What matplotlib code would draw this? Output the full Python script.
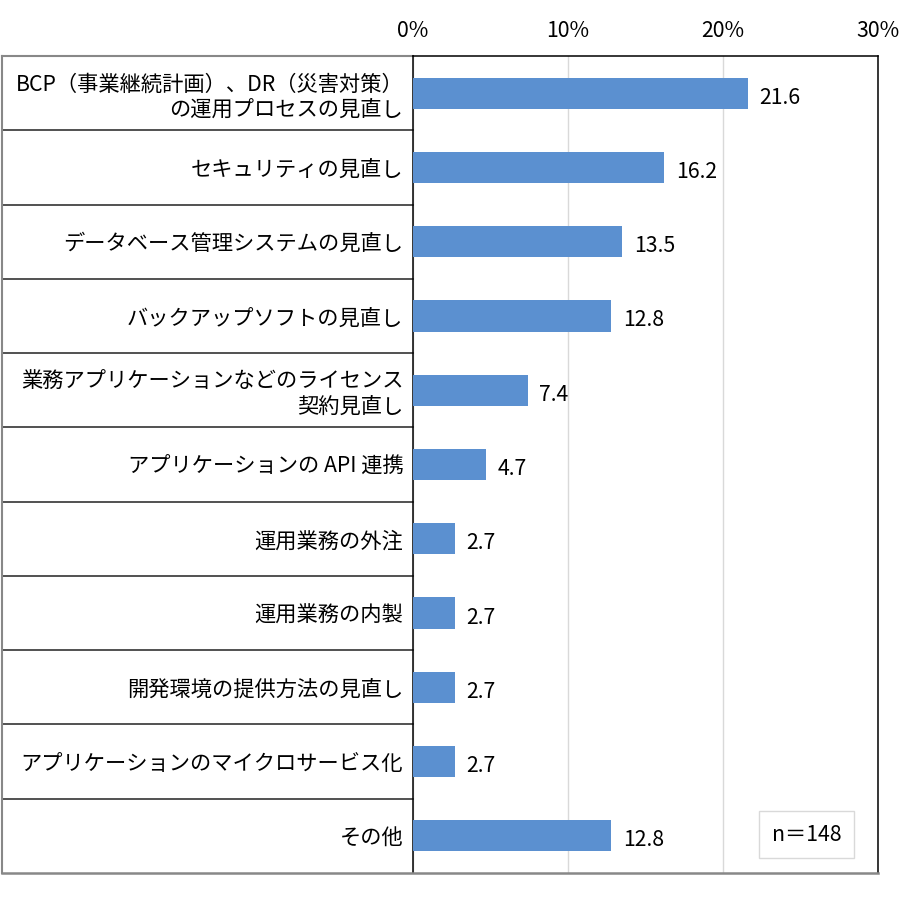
import numpy as np
import matplotlib.pyplot as plt

plt.rcParams['font.family'] = ['Noto Sans CJK JP', 'DejaVu Sans']

# data
labels = ['BCP（事業継続計画）、DR（災害対策）\nの運用プロセスの見直し',
          'セキュリティの見直し',
          'データベース管理システムの見直し',
          'バックアップソフトの見直し',
          '業務アプリケーションなどのライセンス\n契約見直し',
          'アプリケーションの API 連携',
          '運用業務の外注',
          '運用業務の内製',
          '開発環境の提供方法の見直し',
          'アプリケーションのマイクロサービス化',
          'その他']
values = [21.6, 16.2, 13.5, 12.8, 7.4, 4.7, 2.7, 2.7, 2.7, 2.7, 12.8]
xticks = [0, 10, 20, 30]
xticklabels = ['0%', '10%', '20%', '30%']
n_text = 'n＝148'

fs = 15.3

fig = plt.figure(figsize=(9, 9.06), dpi=100)
ax = fig.add_axes([413/900, 33/906, 465/900, 817/906])

y = np.arange(len(labels))
ax.barh(y, values, height=0.42, color='#5B90D0', zorder=3)
for yi, v in zip(y, values):
    ax.text(v + 0.75, yi + 0.06, f'{v:.1f}', va='center', ha='left', fontsize=fs)

ax.set_xlim(0, 30)
ax.set_ylim(len(labels) - 0.5, -0.5)
ax.set_xticks(xticks)
ax.set_xticklabels(xticklabels, fontsize=fs)
ax.xaxis.tick_top()
ax.tick_params(axis='x', length=0, pad=10)
ax.set_yticks(y)
ax.set_yticklabels(labels, fontsize=fs, ha='right')
ax.tick_params(axis='y', length=0, pad=7)
ax.grid(axis='x', color='#d9d9d9', linewidth=1, zorder=0)

for s in ['top', 'right', 'left']:
    ax.spines[s].set_color('black')
    ax.spines[s].set_linewidth(1.1)
ax.spines['bottom'].set_visible(False)

# label table around the categories
xl = -(413 - 2) / 465
tr = ax.get_yaxis_transform()
for i in range(1, len(labels)):
    ax.plot([xl, 0], [i - 0.5, i - 0.5], transform=tr, color='#222222',
            linewidth=1.1, clip_on=False)
ax.plot([xl, 0], [-0.5, -0.5], transform=tr, color='#888888', linewidth=1.5, clip_on=False)
ax.plot([xl, xl], [-0.5, len(labels) - 0.5], transform=tr, color='#888888',
        linewidth=1.5, clip_on=False)
ax.plot([xl, 1], [len(labels) - 0.5, len(labels) - 0.5], transform=tr, color='#888888',
        linewidth=1.8, clip_on=False, zorder=5)

ax.text(0.847, 0.047, n_text, transform=ax.transAxes, ha='center', va='center', fontsize=fs,
        bbox=dict(boxstyle='square,pad=0.6', facecolor='white', edgecolor='#d9d9d9'))

fig.savefig('out.png', dpi=100)
